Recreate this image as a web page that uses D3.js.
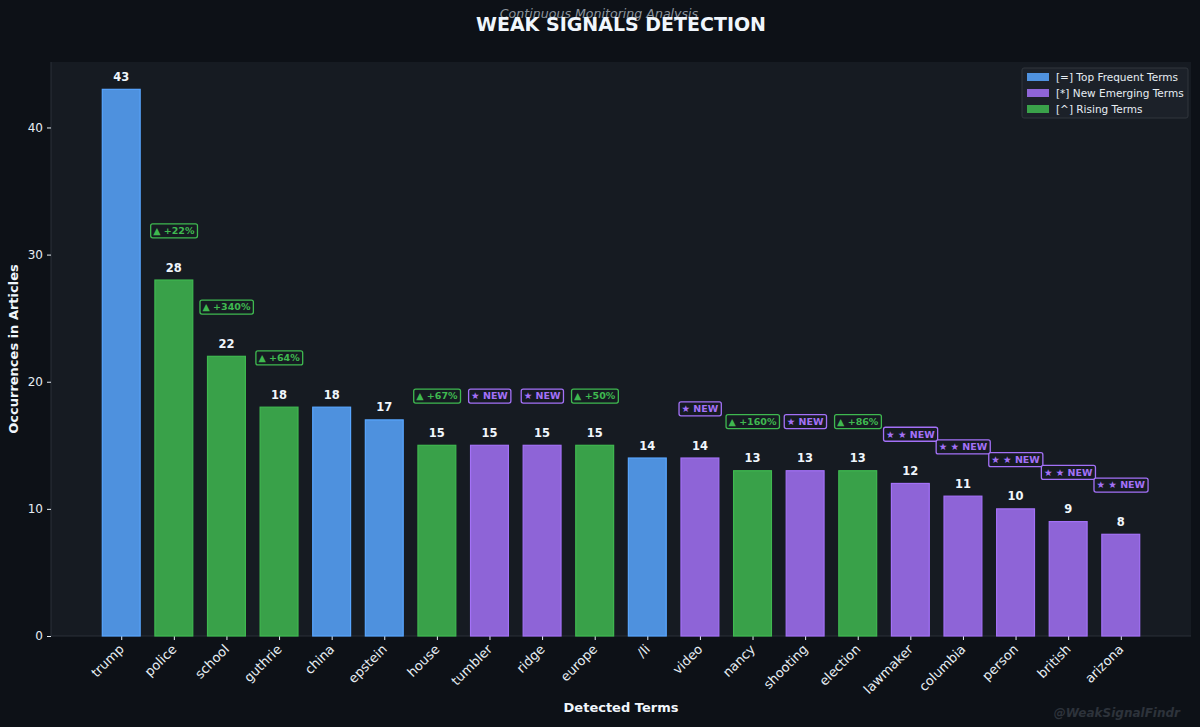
<!DOCTYPE html>
<html>
<head>
<meta charset="utf-8">
<script src="https://cdn.jsdelivr.net/npm/d3@7"></script>
<style>
  body { margin: 0; background: #0d1117; }
  svg { display: block; font-family: "DejaVu Sans", sans-serif; }
</style>
</head>
<body>
<svg id="chart" width="1200" height="727"></svg>
<script>
// chart data
const terms = ["trump", "police", "school", "guthrie", "china", "epstein", "house", "tumbler", "ridge", "europe",
  "/li", "video", "nancy", "shooting", "election", "lawmaker", "columbia", "person", "british", "arizona"];
const counts = [43, 28, 22, 18, 18, 17, 15, 15, 15, 15, 14, 14, 13, 13, 13, 12, 11, 10, 9, 8];
const kinds = ["top", "rising", "rising", "rising", "top", "top", "rising", "new", "new", "rising",
  "top", "new", "rising", "new", "rising", "new", "new", "new", "new", "new"];
const badges = ["", "▲ +22%", "▲ +340%", "▲ +64%", "", "", "▲ +67%", "★ NEW", "★ NEW", "▲ +50%",
  "", "★ NEW", "▲ +160%", "★ NEW", "▲ +86%", "★ ★ NEW", "★ ★ NEW", "★ ★ NEW", "★ ★ NEW", "★ ★ NEW"];
const yTicks = [0, 10, 20, 30, 40];
const legendItems = [
  { kind: "top", label: "[=] Top Frequent Terms" },
  { kind: "new", label: "[*] New Emerging Terms" },
  { kind: "rising", label: "[^] Rising Terms" }
];

const colors = { top: "#58a6ff", new: "#a371f7", rising: "#3fb950" };
const textColor = "#e6edf3";

const svg = d3.select("#chart");
const width = +svg.attr("width");
const height = +svg.attr("height");
const margin = { top: 62, right: 9, bottom: 91, left: 51 };
const innerWidth = width - margin.left - margin.right;
const innerHeight = height - margin.top - margin.bottom;

svg.append("rect").attr("width", width).attr("height", height).attr("fill", "#0d1117");

const g = svg.append("g").attr("transform", `translate(${margin.left},${margin.top})`);
g.append("rect").attr("width", innerWidth).attr("height", innerHeight).attr("fill", "#161b22");

const maxVal = d3.max(counts);
// matplotlib-like limits: bars of width 0.72 with 5% margins
const x = d3.scaleLinear().domain([-1.335, terms.length - 1 + 1.335]).range([0, innerWidth]);
const y = d3.scaleLinear().domain([0, maxVal * 1.05]).range([innerHeight, 0]);
const bw = x(0.72) - x(0);

// spines
g.append("line").attr("x1", 0).attr("x2", 0).attr("y1", 0).attr("y2", innerHeight).attr("stroke", "#2a3038");
g.append("line").attr("x1", 0).attr("x2", innerWidth).attr("y1", innerHeight).attr("y2", innerHeight).attr("stroke", "#2a3038");

// y axis
const yAxis = g.append("g").call(d3.axisLeft(y).tickValues(yTicks).tickSize(4).tickPadding(4));
yAxis.select(".domain").remove();
yAxis.selectAll("line").attr("stroke", textColor);
yAxis.selectAll("text").attr("fill", textColor).style("font-size", "12px").style("font-family", "DejaVu Sans");

// x axis
const xAxis = g.append("g").attr("transform", `translate(0,${innerHeight})`)
  .call(d3.axisBottom(x).tickValues(d3.range(terms.length)).tickFormat(i => terms[i]).tickSize(4));
xAxis.select(".domain").remove();
xAxis.selectAll("line").attr("stroke", textColor);
xAxis.selectAll("text")
  .attr("fill", textColor)
  .style("font-size", "13px")
  .style("font-family", "DejaVu Sans")
  .attr("text-anchor", "end")
  .attr("dy", null)
  .attr("y", 0)
  .attr("transform", "translate(3,14) rotate(-45)");

// bars
g.selectAll(".bar").data(counts).enter().append("rect")
  .attr("class", "bar")
  .attr("x", (d, i) => x(i) - bw / 2)
  .attr("y", d => y(d))
  .attr("width", bw)
  .attr("height", d => innerHeight - y(d))
  .attr("fill", (d, i) => colors[kinds[i]])
  .attr("fill-opacity", 0.85)
  .attr("stroke", (d, i) => colors[kinds[i]])
  .attr("stroke-width", 1.2);

// value labels
g.selectAll(".val").data(counts).enter().append("text")
  .attr("x", (d, i) => x(i))
  .attr("y", d => y(d + maxVal * 0.01) - 3)
  .attr("text-anchor", "middle")
  .attr("fill", "#f0f6fc")
  .style("font-size", "11.5px")
  .style("font-weight", "bold")
  .text(d => d);

// badges above rising / new bars
counts.forEach((d, i) => {
  if (!badges[i]) return;
  const c = colors[kinds[i]];
  const bg = g.append("g").attr("transform", `translate(${x(i)},${y(d + maxVal * 0.09)})`);
  const t = bg.append("text")
    .attr("text-anchor", "middle")
    .attr("dy", "0.35em")
    .attr("fill", c)
    .style("font-size", "9.5px")
    .style("font-weight", "bold")
    .text(badges[i]);
  const bb = t.node().getBBox();
  bg.insert("rect", "text")
    .attr("x", bb.x - 2.5)
    .attr("y", -7)
    .attr("width", bb.width + 5)
    .attr("height", 14)
    .attr("rx", 2)
    .attr("fill", "#161b22")
    .attr("stroke", c)
    .attr("stroke-width", 1.3);
});

// legend
const lg = g.append("g").attr("transform", `translate(${innerWidth - 169},6)`);
lg.append("rect").attr("width", 166).attr("height", 50).attr("rx", 2)
  .attr("fill", "#1c2129").attr("stroke", "#30363d");
legendItems.forEach((it, k) => {
  const row = lg.append("g").attr("transform", `translate(5,${9 + k * 16})`);
  row.append("rect").attr("width", 22).attr("height", 8).attr("y", -4)
    .attr("fill", colors[it.kind]).attr("fill-opacity", 0.85);
  row.append("text").attr("x", 29).attr("dy", "0.35em")
    .attr("fill", textColor).style("font-size", "10.5px").text(it.label);
});

// titles
svg.append("text").attr("x", 599).attr("y", 18).attr("text-anchor", "middle")
  .attr("fill", "#8b949e").style("font-size", "12.6px").style("font-style", "italic")
  .text("Continuous Monitoring Analysis");
svg.append("text").attr("x", 621).attr("y", 31).attr("text-anchor", "middle")
  .attr("fill", "#f0f6fc").style("font-size", "19px").style("font-weight", "bold")
  .text("WEAK SIGNALS DETECTION");

svg.append("text").attr("x", 621).attr("y", 712).attr("text-anchor", "middle")
  .attr("fill", "#f0f6fc").style("font-size", "13px").style("font-weight", "bold")
  .text("Detected Terms");
svg.append("text").attr("transform", "translate(18,349) rotate(-90)").attr("text-anchor", "middle")
  .attr("fill", "#f0f6fc").style("font-size", "13px").style("font-weight", "bold")
  .text("Occurrences in Articles");

svg.append("text").attr("x", 1180).attr("y", 717).attr("text-anchor", "end")
  .attr("fill", "#2d333b").style("font-size", "12px").style("font-weight", "bold").style("font-style", "italic")
  .text("@WeakSignalFindr");
</script>
</body>
</html>
